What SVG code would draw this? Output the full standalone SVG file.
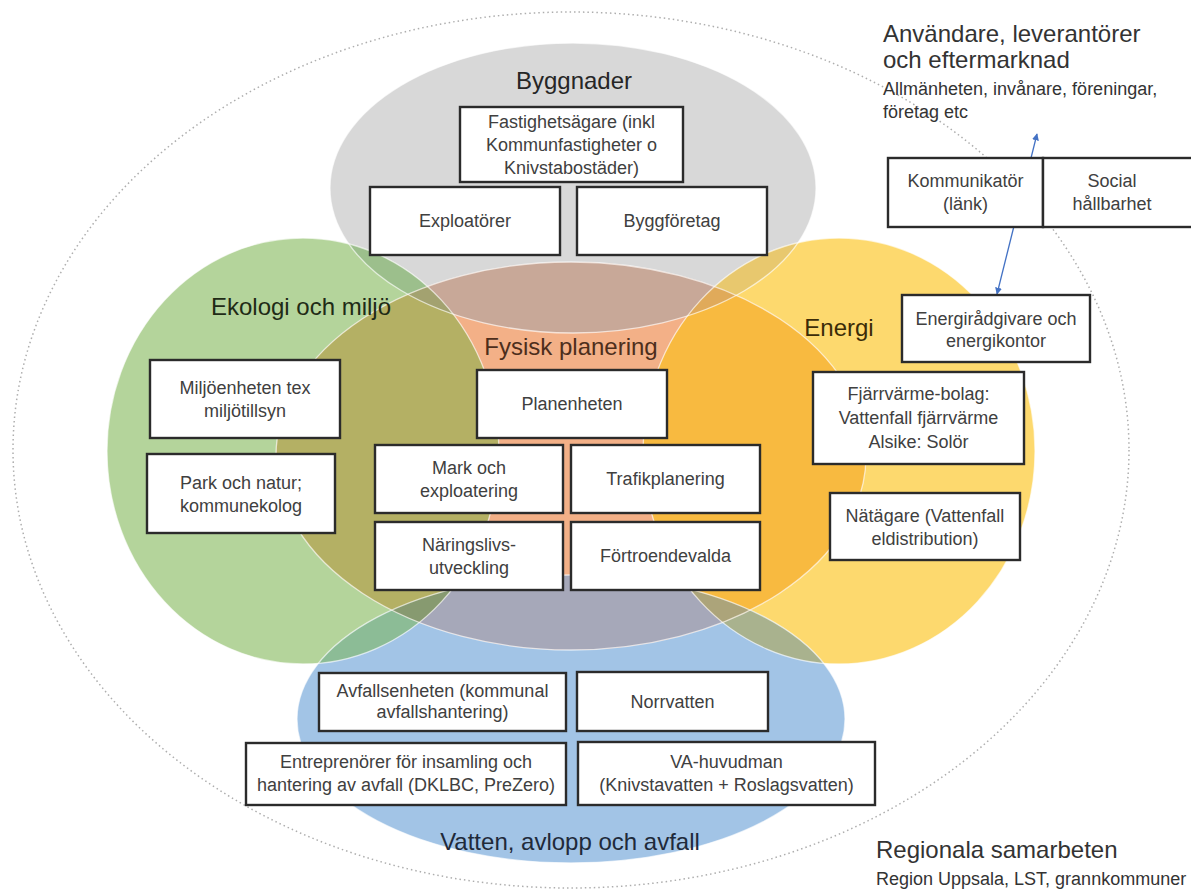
<svg xmlns="http://www.w3.org/2000/svg" width="1191" height="890" viewBox="0 0 1191 890">
  <style>
    .bx { fill: #ffffff; stroke: #2b2b2b; stroke-width: 2.4; }
    .bt { font-family: "Liberation Sans", Arial, sans-serif; font-size: 18px; fill: #404040; text-anchor: middle; }
    .title { font-family: "Liberation Sans", Arial, sans-serif; font-size: 24px; text-anchor: middle; }
    .side { font-family: "Liberation Sans", Arial, sans-serif; fill: #333333; }
    .edge { fill: none; stroke: #ffffff; stroke-opacity: 0.65; stroke-width: 1.3; }
    .link { fill: none; stroke: #4472c4; stroke-width: 1.3; }
  </style>
  <defs>
    <ellipse id="shape-gray" cx="573" cy="188" rx="243" ry="145"/>
    <ellipse id="shape-green" cx="303" cy="451" rx="196" ry="213"/>
    <ellipse id="shape-yellow" cx="839" cy="451" rx="196" ry="213"/>
    <ellipse id="shape-blue" cx="571" cy="719" rx="274" ry="144"/>
    <ellipse id="shape-core" cx="571" cy="456" rx="295" ry="194"/>
    <clipPath id="clip-gray"><use href="#shape-gray"/></clipPath>
    <clipPath id="clip-green"><use href="#shape-green"/></clipPath>
    <clipPath id="clip-yellow"><use href="#shape-yellow"/></clipPath>
    <clipPath id="clip-blue"><use href="#shape-blue"/></clipPath>
    <marker id="arrow" viewBox="0 0 10 10" refX="9" refY="5" markerWidth="7" markerHeight="7" markerUnits="userSpaceOnUse" orient="auto-start-reverse">
      <path d="M0 0 L10 5 L0 10 Z" fill="#4472c4"/>
    </marker>
  </defs>

  <rect x="0" y="0" width="1191" height="890" fill="#ffffff"/>

  <!-- outer dotted boundary -->
  <ellipse cx="571" cy="450" rx="558" ry="438" fill="none" stroke="#aeaeae" stroke-width="1.5" stroke-dasharray="1.5 3"/>

  <!-- overlapping areas: base shapes, then each overlap filled through clip paths -->
  <g id="areas">
    <use href="#shape-gray" fill="#d8d8d8"/>
    <use href="#shape-green" fill="#b4d49b"/>
    <use href="#shape-yellow" fill="#fdd96e"/>
    <use href="#shape-blue" fill="#a2c4e6"/>
    <g clip-path="url(#clip-gray)">
      <use href="#shape-green" fill="#9cbf8c"/>
      <use href="#shape-yellow" fill="#e8c86e"/>
    </g>
    <g clip-path="url(#clip-blue)">
      <use href="#shape-green" fill="#8cbc96"/>
      <use href="#shape-yellow" fill="#a9b28e"/>
    </g>
    <use href="#shape-core" fill="#f3b087"/>
    <g clip-path="url(#clip-gray)">
      <use href="#shape-core" fill="#c8a898"/>
    </g>
    <g clip-path="url(#clip-blue)">
      <use href="#shape-core" fill="#a6a8b9"/>
    </g>
    <g clip-path="url(#clip-green)">
      <use href="#shape-core" fill="#b4b064"/>
      <g clip-path="url(#clip-gray)"><use href="#shape-core" fill="#a3a270"/></g>
      <g clip-path="url(#clip-blue)"><use href="#shape-core" fill="#879a70"/></g>
    </g>
    <g clip-path="url(#clip-yellow)">
      <use href="#shape-core" fill="#f8ba40"/>
      <g clip-path="url(#clip-gray)"><use href="#shape-core" fill="#e0aa5a"/></g>
      <g clip-path="url(#clip-blue)"><use href="#shape-core" fill="#aca47a"/></g>
    </g>
    <use href="#shape-gray" class="edge"/>
    <use href="#shape-green" class="edge"/>
    <use href="#shape-yellow" class="edge"/>
    <use href="#shape-blue" class="edge"/>
    <use href="#shape-core" class="edge"/>
  </g>

  <!-- area titles -->
  <g id="title-byggnader"><text class="title" x="574" y="89" fill="#262626">Byggnader</text></g>
  <g id="title-ekologi"><text class="title" x="301" y="315" fill="#1f2b16">Ekologi och miljö</text></g>
  <g id="title-fysisk"><text class="title" x="571" y="355" fill="#4d2e1c">Fysisk planering</text></g>
  <g id="title-energi"><text class="title" x="839" y="336" fill="#3b2c08">Energi</text></g>
  <g id="title-vatten"><text class="title" x="570" y="850" fill="#1f2a3a">Vatten, avlopp och avfall</text></g>

  <!-- outer stakeholder labels -->
  <g id="label-anvandare" class="side">
    <text x="883" y="42" font-size="24">Användare, leverantörer</text>
    <text x="883" y="68" font-size="24">och eftermarknad</text>
    <text x="883" y="95" font-size="18">Allmänheten, invånare, föreningar,</text>
    <text x="883" y="118" font-size="18">företag etc</text>
  </g>
  <g id="label-regionala" class="side">
    <text x="876" y="858" font-size="24">Regionala samarbeten</text>
    <text x="876" y="885" font-size="18">Region Uppsala, LST, grannkommuner</text>
  </g>

  <!-- connectors -->
  <g id="connectors">
    <line class="link" x1="997" y1="294" x2="1037" y2="134" marker-start="url(#arrow)" marker-end="url(#arrow)"/>
  </g>

  <!-- nodes -->
  <g id="node-fastighetsagare">
    <rect class="bx" x="460" y="107" width="223" height="75"/>
    <text class="bt" x="571.5" y="128">Fastighetsägare (inkl</text>
    <text class="bt" x="571.5" y="151">Kommunfastigheter o</text>
    <text class="bt" x="571.5" y="174">Knivstabostäder)</text>
  </g>
  <g id="node-exploatorer">
    <rect class="bx" x="370" y="187" width="190" height="68"/>
    <text class="bt" x="465" y="227">Exploatörer</text>
  </g>
  <g id="node-byggforetag">
    <rect class="bx" x="577" y="187" width="190" height="68"/>
    <text class="bt" x="672" y="227">Byggföretag</text>
  </g>
  <g id="node-miljoenheten">
    <rect class="bx" x="150" y="360" width="190" height="78"/>
    <text class="bt" x="245" y="394">Miljöenheten tex</text>
    <text class="bt" x="245" y="417">miljötillsyn</text>
  </g>
  <g id="node-park">
    <rect class="bx" x="147" y="454" width="188" height="79"/>
    <text class="bt" x="241" y="489">Park och natur;</text>
    <text class="bt" x="241" y="512">kommunekolog</text>
  </g>
  <g id="node-planenheten">
    <rect class="bx" x="477" y="370" width="190" height="68"/>
    <text class="bt" x="572" y="410">Planenheten</text>
  </g>
  <g id="node-mark">
    <rect class="bx" x="375" y="445" width="188" height="68"/>
    <text class="bt" x="469" y="474">Mark och</text>
    <text class="bt" x="469" y="497">exploatering</text>
  </g>
  <g id="node-trafik">
    <rect class="bx" x="571" y="445" width="189" height="68"/>
    <text class="bt" x="665.5" y="485">Trafikplanering</text>
  </g>
  <g id="node-naringsliv">
    <rect class="bx" x="375" y="522" width="188" height="68"/>
    <text class="bt" x="469" y="551">Näringslivs-</text>
    <text class="bt" x="469" y="574">utveckling</text>
  </g>
  <g id="node-fortroendevalda">
    <rect class="bx" x="571" y="522" width="189" height="68"/>
    <text class="bt" x="665.5" y="562">Förtroendevalda</text>
  </g>
  <g id="node-kommunikator">
    <rect class="bx" x="888" y="158" width="155" height="69"/>
    <text class="bt" x="965.5" y="187">Kommunikatör</text>
    <text class="bt" x="965.5" y="210">(länk)</text>
  </g>
  <g id="node-social">
    <rect class="bx" x="1043" y="158" width="152" height="69"/>
    <text class="bt" x="1112" y="187">Social</text>
    <text class="bt" x="1112" y="210">hållbarhet</text>
  </g>
  <g id="node-energiradgivare">
    <rect class="bx" x="902" y="295" width="188" height="67"/>
    <text class="bt" x="996" y="325">Energirådgivare och</text>
    <text class="bt" x="996" y="347">energikontor</text>
  </g>
  <g id="node-fjarrvarme">
    <rect class="bx" x="813" y="372" width="211" height="92"/>
    <text class="bt" x="918.5" y="400">Fjärrvärme-bolag:</text>
    <text class="bt" x="918.5" y="424">Vattenfall fjärrvärme</text>
    <text class="bt" x="918.5" y="448">Alsike: Solör</text>
  </g>
  <g id="node-natagare">
    <rect class="bx" x="830" y="493" width="190" height="67"/>
    <text class="bt" x="925" y="522">Nätägare (Vattenfall</text>
    <text class="bt" x="925" y="545">eldistribution)</text>
  </g>
  <g id="node-avfallsenheten">
    <rect class="bx" x="319" y="673" width="247" height="58"/>
    <text class="bt" x="442.5" y="697">Avfallsenheten (kommunal</text>
    <text class="bt" x="442.5" y="718">avfallshantering)</text>
  </g>
  <g id="node-norrvatten">
    <rect class="bx" x="577" y="672" width="191" height="59"/>
    <text class="bt" x="672.5" y="708">Norrvatten</text>
  </g>
  <g id="node-entreprenorer">
    <rect class="bx" x="246" y="743" width="320" height="62"/>
    <text class="bt" x="406" y="768">Entreprenörer för insamling och</text>
    <text class="bt" x="406" y="791">hantering av avfall (DKLBC, PreZero)</text>
  </g>
  <g id="node-va">
    <rect class="bx" x="578" y="742" width="297" height="63"/>
    <text class="bt" x="726.5" y="768">VA-huvudman</text>
    <text class="bt" x="726.5" y="791">(Knivstavatten + Roslagsvatten)</text>
  </g>
</svg>
